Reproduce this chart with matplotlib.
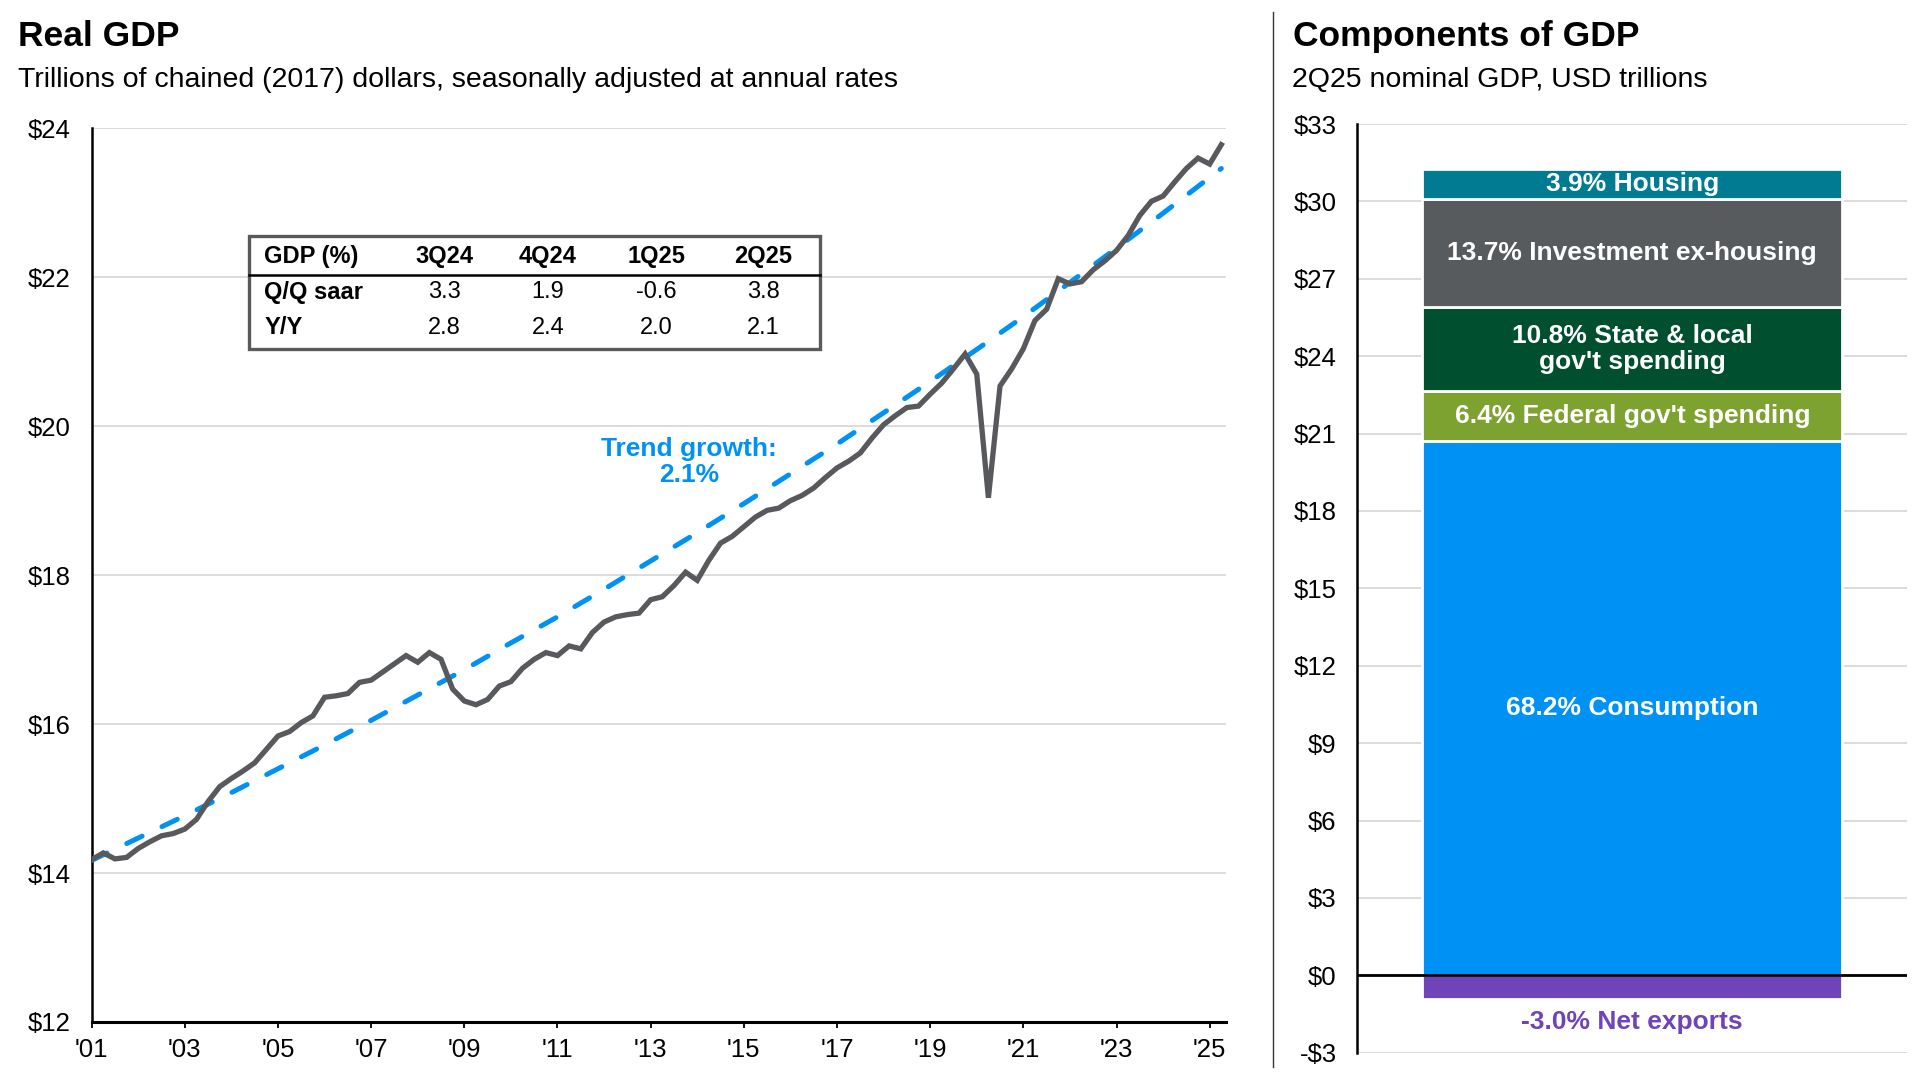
import matplotlib
matplotlib.use("Agg")
import matplotlib.pyplot as plt
from matplotlib.patches import Rectangle
from matplotlib.lines import Line2D

plt.rcParams['font.family'] = ['Liberation Sans', 'DejaVu Sans']

# Real GDP, trillions of chained 2017 dollars, quarterly 1Q01 - 2Q25
real_gdp = [
    14.18, 14.27, 14.19, 14.21, 14.33, 14.42, 14.50, 14.53,
    14.59, 14.72, 14.96, 15.16, 15.27, 15.37, 15.48, 15.66,
    15.84, 15.90, 16.02, 16.11, 16.36, 16.38, 16.41, 16.56,
    16.59, 16.70, 16.81, 16.92, 16.83, 16.96, 16.87, 16.47,
    16.31, 16.26, 16.33, 16.51, 16.57, 16.75, 16.87, 16.96,
    16.92, 17.05, 17.01, 17.23, 17.37, 17.44, 17.47, 17.49,
    17.67, 17.71, 17.86, 18.04, 17.93, 18.20, 18.43, 18.52,
    18.65, 18.78, 18.87, 18.90, 19.00, 19.07, 19.17, 19.31,
    19.44, 19.53, 19.64, 19.84, 20.02, 20.14, 20.25, 20.27,
    20.43, 20.58, 20.77, 20.97, 20.70, 19.04, 20.54, 20.77,
    21.04, 21.42, 21.57, 21.98, 21.91, 21.94, 22.10, 22.22,
    22.36, 22.56, 22.83, 23.02, 23.09, 23.28, 23.46, 23.60,
    23.52, 23.78,
]
# trend line read at each 1Q (quarter index) plus the last quarter
trend_idx = [0, 4, 8, 12, 16, 20, 24, 28, 32, 36, 40, 44, 48, 52, 56, 60,
             64, 68, 72, 76, 80, 84, 88, 92, 96, 97]
trend_val = [14.17, 14.47, 14.77, 15.08, 15.40, 15.72, 16.05, 16.39, 16.73,
             17.09, 17.44, 17.81, 18.19, 18.57, 18.96, 19.36, 19.76, 20.18,
             20.60, 21.03, 21.47, 21.93, 22.39, 22.86, 23.34, 23.46]
year_labels = ["'01", "'03", "'05", "'07", "'09", "'11", "'13", "'15",
               "'17", "'19", "'21", "'23", "'25"]

table_cols = ["GDP (%)", "3Q24", "4Q24", "1Q25", "2Q25"]
table_rows = ["Q/Q saar", "Y/Y"]
qq_saar = ["3.3", "1.9", "-0.6", "3.8"]
yy = ["2.8", "2.4", "2.0", "2.1"]

# Components of 2Q25 nominal GDP, USD trillions
comp_names = ["Consumption", "Federal gov't spending",
              "State & local\ngov't spending", "Investment ex-housing", "Housing"]
comp_share = [68.2, 6.4, 10.8, 13.7, 3.9]
comp_value = [20.70, 1.94, 3.28, 4.16, 1.18]
comp_colors = ["#0091f5", "#7ea230", "#00502f", "#585b5e", "#007b92"]
netx_share = -3.0
netx_value = -0.91

GRAY = "#57595c"
BLUE = "#0091f5"
PURPLE = "#6e44b8"
GRID = "#d9d9d9"
W, H = 1921, 1090

fig = plt.figure(figsize=(19.21, 10.9), dpi=100)

# ---------------- left: real GDP ----------------
ax1 = fig.add_axes([0.0477, 0.0624, 0.5905, 0.8199])
x = list(range(len(real_gdp)))
ax1.plot(trend_idx, trend_val, color=BLUE, lw=3.6, dashes=(3.4, 4.4),
         dash_capstyle='round', zorder=3)
ax1.plot(x, real_gdp, color=GRAY, lw=3.8, solid_joinstyle='miter', zorder=4)

ax1.set_xlim(0, 97.4)
ax1.set_ylim(12, 24)
ax1.set_yticks(range(12, 25, 2))
ax1.set_yticklabels([f"${v}" for v in range(12, 25, 2)])
ax1.set_xticks(range(0, 97, 8))
ax1.set_xticklabels(year_labels)
ax1.grid(axis='y', color=GRID, lw=1.3)
ax1.set_axisbelow(True)
for s in ['top', 'right']:
    ax1.spines[s].set_visible(False)
ax1.spines['left'].set_linewidth(1.8)
ax1.spines['bottom'].set_linewidth(2.2)
ax1.tick_params(axis='y', length=0, pad=15, labelsize=18.5)
ax1.tick_params(axis='x', length=4.5, width=1.3, pad=7, labelsize=18.5, direction='out')

ax1.text(51.3, 19.52, "Trend growth:\n2.1%", color=BLUE, fontsize=19,
         fontweight='bold', ha='center', va='center', linespacing=1.15)

# table
ax1.add_patch(Rectangle((0.1384, 0.7525), 0.5036, 0.1271, transform=ax1.transAxes,
                        fill=True, facecolor='white', edgecolor='#5a5a5a', lw=2.4, zorder=6))
ax1.plot([0.1384, 0.642], [0.836, 0.836], transform=ax1.transAxes, color='black',
         lw=1.8, zorder=7)
col_x = [0.1523, 0.3109, 0.4022, 0.4977, 0.5924]
row_y = [0.8566, 0.8168, 0.777]
for j, c in enumerate(table_cols):
    ax1.text(col_x[j], row_y[0], c, transform=ax1.transAxes, fontsize=17,
             fontweight='bold', ha='left' if j == 0 else 'center', va='center', zorder=8)
for r, (lab, vals) in enumerate(zip(table_rows, [qq_saar, yy])):
    ax1.text(col_x[0], row_y[r + 1], lab, transform=ax1.transAxes, fontsize=17,
             fontweight='bold', ha='left', va='center', zorder=8)
    for j, v in enumerate(vals):
        ax1.text(col_x[j + 1], row_y[r + 1], v, transform=ax1.transAxes, fontsize=17,
                 ha='center', va='center', zorder=8)

# ---------------- right: components ----------------
ax2 = fig.add_axes([0.7066, 0.0342, 0.2862, 0.852])
bottom = 0.0
for name, share, val, col in zip(comp_names, comp_share, comp_value, comp_colors):
    ax2.bar(0, val, bottom=bottom, width=0.764, color=col, edgecolor='white',
            lw=2, zorder=3)
    ax2.text(0, bottom + val / 2, f"{share}% {name}", color='white', fontsize=19,
             fontweight='bold', ha='center', va='center', zorder=5, linespacing=1.15)
    bottom += val
ax2.bar(0, netx_value, width=0.764, color=PURPLE, edgecolor='white', lw=2, zorder=3)
ax2.text(0, -1.8, f"{netx_share}% Net exports", color=PURPLE, fontsize=19,
         fontweight='bold', ha='center', va='center')
ax2.axhline(0, color='black', lw=2, zorder=4)

ax2.set_xlim(-0.5, 0.5)
ax2.set_ylim(-3, 33)
ax2.set_yticks(range(-3, 34, 3))
ax2.set_yticklabels([f"-${-v}" if v < 0 else f"${v}" for v in range(-3, 34, 3)])
ax2.set_xticks([])
ax2.grid(axis='y', color=GRID, lw=1.3)
ax2.set_axisbelow(True)
for s in ['top', 'right', 'bottom']:
    ax2.spines[s].set_visible(False)
ax2.spines['left'].set_linewidth(1.8)
ax2.tick_params(axis='y', length=0, pad=15, labelsize=18.5)

# titles
fig.text(18 / W, 1 - 46 / H, "Real GDP", fontsize=25.5, fontweight='bold', va='baseline')
fig.text(18 / W, 1 - 87 / H,
         "Trillions of chained (2017) dollars, seasonally adjusted at annual rates",
         fontsize=20.5, va='baseline')
fig.text(1293 / W, 1 - 46 / H, "Components of GDP", fontsize=25.5,
         fontweight='bold', va='baseline')
fig.text(1292 / W, 1 - 87 / H, "2Q25 nominal GDP, USD trillions",
         fontsize=20.5, va='baseline')

fig.add_artist(Line2D([1273 / W, 1273 / W], [1 - 12 / H, 1 - 1067 / H],
                      color='#333333', lw=1))

fig.savefig("out.png", dpi=100)
